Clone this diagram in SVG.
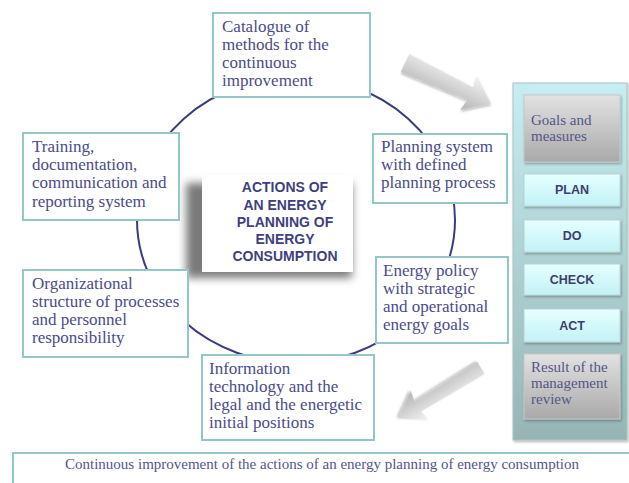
<svg xmlns="http://www.w3.org/2000/svg" width="629" height="483" viewBox="0 0 629 483">
<defs>
<style>
.box{fill:#fff;stroke:#93c6c8;stroke-width:2}
.t{font-family:"Liberation Serif",serif;font-size:17px;fill:#4b4b8c}
.ts{font-family:"Liberation Serif",serif;font-size:15px;fill:#55558a}
.c{font-family:"Liberation Sans",Arial,sans-serif;font-weight:bold;font-size:14px;fill:#3f3f80;text-anchor:middle}
.p{font-family:"Liberation Sans",Arial,sans-serif;font-weight:bold;font-size:12.5px;fill:#3d3d6e;text-anchor:middle}
.cyan{fill:url(#gc);stroke:#b8d4d6;stroke-width:1}
.gray{fill:url(#gg);stroke:#c8c8c8;stroke-width:1}
</style>
<linearGradient id="gp" x1="0" y1="0" x2="0" y2="1">
<stop offset="0" stop-color="#c6eef2"/>
<stop offset="1" stop-color="#97b4b5"/>
</linearGradient>
<linearGradient id="gc" x1="0" y1="0" x2="0" y2="1">
<stop offset="0" stop-color="#e6ffff"/>
<stop offset="1" stop-color="#c2f2f6"/>
</linearGradient>
<linearGradient id="gg" x1="0" y1="0" x2="0" y2="1">
<stop offset="0" stop-color="#e2e2e2"/>
<stop offset="1" stop-color="#a9a9a9"/>
</linearGradient>
<linearGradient id="ga" x1="0" y1="0" x2="0" y2="1">
<stop offset="0" stop-color="#f4f4f4"/>
<stop offset="0.5" stop-color="#d4d4d4"/>
<stop offset="1" stop-color="#b4b4b4"/>
</linearGradient>
<filter id="blur" x="-20%" y="-20%" width="140%" height="140%"><feGaussianBlur stdDeviation="4.5"/></filter>
<filter id="sh" x="-10%" y="-10%" width="130%" height="130%"><feDropShadow dx="1" dy="1.5" stdDeviation="1" flood-color="#000" flood-opacity="0.3"/></filter>
</defs>
<rect width="629" height="483" fill="#fff"/>

<g id="connectors">
<ellipse cx="296" cy="220" rx="159" ry="143" fill="none" stroke="#3b3b7b" stroke-width="2"/>
<g id="arrow-top" transform="translate(405,63) rotate(25.2)" filter="url(#sh)">
<polygon points="0,-10 72,-7 70,-19 95,0 70,19 72,7 0,10" fill="url(#ga)"/>
</g>
<g id="arrow-bottom" transform="translate(481,368) rotate(148.6)" filter="url(#sh)">
<polygon points="0,-7 74,-6 72,-17 97,0 72,17 74,6 0,7" fill="url(#ga)"/>
</g>
</g>

<g id="center">
<rect x="186" y="183" width="166" height="95" fill="#7a7a7a" filter="url(#blur)"/>
<rect x="202" y="175" width="151" height="97" fill="#fff"/>
<text class="c" x="285" y="192">ACTIONS OF</text>
<text class="c" x="285" y="210">AN ENERGY</text>
<text class="c" x="285" y="227">PLANNING OF</text>
<text class="c" x="285" y="244">ENERGY</text>
<text class="c" x="285" y="261">CONSUMPTION</text>
</g>

<g id="catalogue">
<rect class="box" x="213" y="13" width="157" height="84"/>
<text class="t" x="222" y="32">Catalogue of</text>
<text class="t" x="222" y="50">methods for the</text>
<text class="t" x="222" y="68">continuous</text>
<text class="t" x="222" y="86">improvement</text>
</g>

<g id="planning">
<rect class="box" x="373" y="134" width="134" height="69"/>
<text class="t" x="381" y="152">Planning system</text>
<text class="t" x="381" y="170">with defined</text>
<text class="t" x="381" y="188">planning process</text>
</g>

<g id="policy">
<rect class="box" x="376" y="257" width="132" height="86"/>
<text class="t" x="383" y="276">Energy policy</text>
<text class="t" x="383" y="294">with strategic</text>
<text class="t" x="383" y="312">and operational</text>
<text class="t" x="383" y="330">energy goals</text>
</g>

<g id="information">
<rect class="box" x="202" y="355" width="172" height="85"/>
<text class="t" x="209" y="374">Information</text>
<text class="t" x="209" y="392">technology and the</text>
<text class="t" x="209" y="410">legal and the energetic</text>
<text class="t" x="209" y="428">initial positions</text>
</g>

<g id="training">
<rect class="box" x="23" y="133" width="156" height="87"/>
<text class="t" x="32" y="152">Training,</text>
<text class="t" x="32" y="170">documentation,</text>
<text class="t" x="32" y="188">communication and</text>
<text class="t" x="32" y="207">reporting system</text>
</g>

<g id="organizational">
<rect class="box" x="23" y="270" width="165" height="87"/>
<text class="t" x="32" y="289">Organizational</text>
<text class="t" x="32" y="307">structure of processes</text>
<text class="t" x="32" y="325">and personnel</text>
<text class="t" x="32" y="343">responsibility</text>
</g>

<g id="pdca-panel">
<rect x="513" y="83" width="114" height="357" fill="url(#gp)" stroke="#a9c2c3" stroke-width="1" filter="url(#sh)"/>
<g id="goals"><rect class="gray" x="524" y="95" width="96" height="67" filter="url(#sh)"/>
<text class="ts" x="531" y="125">Goals and</text>
<text class="ts" x="531" y="141">measures</text></g>
<g id="plan"><rect class="cyan" x="524" y="174" width="96" height="32" filter="url(#sh)"/>
<text class="p" x="572" y="194">PLAN</text></g>
<g id="do"><rect class="cyan" x="524" y="220" width="96" height="32" filter="url(#sh)"/>
<text class="p" x="572" y="240">DO</text></g>
<g id="check"><rect class="cyan" x="524" y="264" width="96" height="31" filter="url(#sh)"/>
<text class="p" x="572" y="284">CHECK</text></g>
<g id="act"><rect class="cyan" x="524" y="309" width="96" height="33" filter="url(#sh)"/>
<text class="p" x="572" y="330">ACT</text></g>
<g id="result"><rect class="gray" x="524" y="354" width="96" height="65" filter="url(#sh)"/>
<text class="ts" x="531" y="372">Result of the</text>
<text class="ts" x="531" y="388">management</text>
<text class="ts" x="531" y="404">review</text></g>
</g>

<g id="banner">
<rect class="box" x="13" y="453" width="630" height="40"/>
<text class="ts" x="322" y="469" text-anchor="middle">Continuous improvement of the actions of an energy planning of energy consumption</text>
</g>
</svg>
